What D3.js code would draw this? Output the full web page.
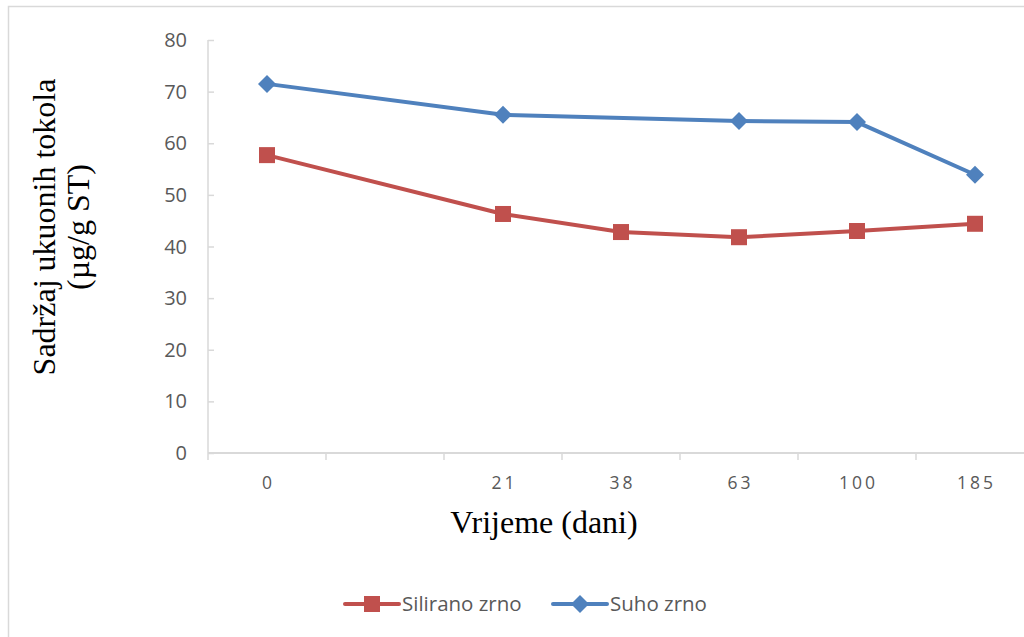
<!DOCTYPE html>
<html><head><meta charset="utf-8">
<script src="https://cdn.jsdelivr.net/npm/d3@7"></script>
<style>body{margin:0;background:#fff}svg{display:block}</style>
</head><body>
<svg id="c" width="1024" height="637"></svg>
<script>
const categories = ["0", "", "21", "38", "63", "100", "185"];
const siliranoZrno = [57.7, null, 46.3, 42.8, 41.8, 43.0, 44.4];
const suhoZrno = [71.5, null, 65.5, null, 64.3, 64.1, 53.9];
const yTicks = [0, 10, 20, 30, 40, 50, 60, 70, 80];
const seriesNames = ["Silirano zrno", "Suho zrno"];

const svg = d3.select("#c");
const sans = "'Open Sans', sans-serif";
const serif = "'Liberation Serif', 'Times New Roman', serif";
const gray = "#d9d9d9", txt = "#595959";

// outer chart border
svg.append("rect").attr("x", 8.5).attr("y", 6.5).attr("width", 1100).attr("height", 700)
  .attr("fill", "none").attr("stroke", gray).attr("stroke-width", 1.5);

const x = d3.scaleBand().domain(d3.range(categories.length)).range([208, 1034]);
const y = d3.scaleLinear().domain([0, 80]).range([453, 40]);

// y axis
const ya = svg.append("g").attr("transform", "translate(208,0)")
  .call(d3.axisRight(y).tickValues(yTicks).tickSize(6).tickFormat(""));
ya.selectAll("path,line").attr("stroke", gray).attr("stroke-width", 1.5);
ya.select(".domain").attr("d", `M0,${y(80)}V${y(0)}`);
svg.append("g").selectAll("text").data(yTicks).join("text")
  .attr("x", 187).attr("y", d => y(d)).attr("dy", "0.35em").attr("text-anchor", "end")
  .attr("font-family", sans).attr("font-size", 20).attr("fill", txt).text(d => d);

// x axis
const xa = svg.append("g").attr("transform", `translate(0,${y(0)})`)
  .call(d3.axisBottom(x).tickSize(0).tickFormat(""));
xa.select(".domain").attr("stroke", gray).attr("stroke-width", 2).attr("d", "M208,0H1034");
xa.selectAll(".tick").remove();
svg.append("g").selectAll("line").data(d3.range(categories.length)).join("line")
  .attr("x1", i => x(i)).attr("x2", i => x(i)).attr("y1", y(0)).attr("y2", y(0) + 7)
  .attr("stroke", gray).attr("stroke-width", 1.5);
svg.append("g").selectAll("text").data(categories).join("text")
  .attr("x", (d, i) => x(i) + x.bandwidth() / 2 + 1.5).attr("y", 489).attr("text-anchor", "middle")
  .attr("font-family", sans).attr("font-size", 17.5).attr("letter-spacing", 3).attr("fill", txt).text(d => d);

// axis titles
svg.append("text").attr("x", 544).attr("y", 533).attr("text-anchor", "middle")
  .attr("font-family", serif).attr("font-size", 32).attr("fill", "#000").text("Vrijeme (dani)");
const yt = svg.append("text").attr("transform", "translate(0,227) rotate(-90)")
  .attr("text-anchor", "middle").attr("font-family", serif).attr("font-size", 32).attr("fill", "#000");
yt.append("tspan").attr("x", 0).attr("y", 55).text("Sadržaj ukuonih tokola");
yt.append("tspan").attr("x", 0).attr("y", 89).text("(µg/g ST)");

const colors = ["#C0504D", "#4F81BD"];
const data = [siliranoZrno, suhoZrno];
const line = d3.line().x(d => x(d.i) + x.bandwidth() / 2).y(d => y(d.v));

function marker(g, k, cx, cy) {
  if (k === 0) {
    g.append("rect").attr("x", cx - 8).attr("y", cy - 8).attr("width", 16).attr("height", 16).attr("fill", colors[0]);
  } else {
    g.append("path").attr("d", `M${cx},${cy - 9}L${cx + 9},${cy}L${cx},${cy + 9}L${cx - 9},${cy}Z`).attr("fill", colors[1]);
  }
}

data.forEach((vals, k) => {
  const pts = vals.map((v, i) => ({ i, v })).filter(d => d.v !== null);
  svg.append("path").datum(pts).attr("d", line).attr("fill", "none")
    .attr("stroke", colors[k]).attr("stroke-width", 4).attr("stroke-linejoin", "round");
  const g = svg.append("g");
  pts.forEach(p => marker(g, k, x(p.i) + x.bandwidth() / 2, y(p.v)));
});

// legend
const legX = [345, 553];
seriesNames.forEach((name, k) => {
  const g = svg.append("g");
  g.append("line").attr("x1", legX[k]).attr("x2", legX[k] + 54).attr("y1", 604).attr("y2", 604)
    .attr("stroke", colors[k]).attr("stroke-width", 4).attr("stroke-linecap", "round");
  marker(g, k, legX[k] + 27, 604);
  g.append("text").attr("x", legX[k] + 57).attr("y", 604).attr("dy", "0.35em")
    .attr("font-family", sans).attr("font-size", 20.5).attr("fill", txt).text(name);
});
</script>
</body></html>
